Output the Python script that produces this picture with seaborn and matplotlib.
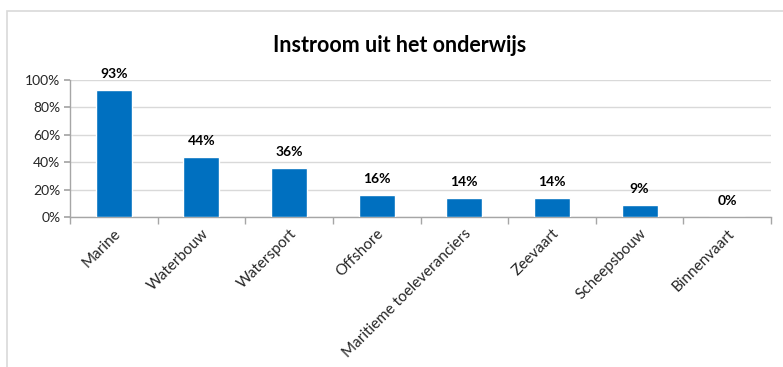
import matplotlib
matplotlib.use("Agg")
import matplotlib.pyplot as plt
import matplotlib.patches as mpatches
from matplotlib.ticker import FixedLocator, PercentFormatter
import seaborn as sns
import pandas as pd

categories = ["Marine", "Waterbouw", "Watersport", "Offshore",
              "Maritieme toeleveranciers", "Zeevaart", "Scheepsbouw", "Binnenvaart"]
values = [93, 44, 36, 16, 14, 14, 9, 0]
yticks = [0, 20, 40, 60, 80, 100]

sns.set_theme(style="white")
plt.rcParams["font.family"] = ["Lato", "DejaVu Sans"]

df = pd.DataFrame({"sector": categories, "pct": values})

fig = plt.figure(figsize=(7.83, 3.67), dpi=100)
ax = fig.add_axes([70 / 783, 1 - 217 / 367, (771 - 70) / 783, (217 - 80) / 367])

sns.barplot(data=df, x="sector", y="pct", color="#0070c0", width=0.41,
            saturation=1, ax=ax, zorder=3)

ax.set_xlim(-0.5, len(categories) - 0.5)
ax.set_ylim(0, 100)
ax.set_yticks(yticks)
ax.yaxis.set_major_formatter(PercentFormatter(decimals=0))
ax.grid(axis="y", color="#d9d9d9", linewidth=1, zorder=0)
ax.set_xlabel("")
ax.set_ylabel("")

for s in ["top", "right"]:
    ax.spines[s].set_visible(False)
for s in ["left", "bottom"]:
    ax.spines[s].set_color("#a6a6a6")
    ax.spines[s].set_linewidth(1)

ax.tick_params(axis="y", which="major", length=4, color="#a6a6a6",
               labelsize=10, labelcolor="#262626", pad=3, left=True)
ax.tick_params(axis="x", which="major", length=0, labelsize=11,
               labelcolor="#262626", pad=7)
ax.xaxis.set_minor_locator(FixedLocator([i - 0.5 for i in range(len(categories) + 1)]))
ax.tick_params(axis="x", which="minor", length=5, color="#a6a6a6", bottom=True)

for lbl in ax.get_xticklabels():
    lbl.set_rotation(45)
    lbl.set_ha("right")
    lbl.set_rotation_mode("anchor")

for i, v in enumerate(values):
    ax.annotate(f"{v}%", (i, v), xytext=(0, 7), textcoords="offset points",
                ha="center", va="bottom", fontsize=10, fontweight="bold",
                color="#000000", annotation_clip=False)

fig.text(400 / 783, 1 - 45 / 367, "Instroom uit het onderwijs", ha="center",
         va="center", fontsize=15.5, fontweight="bold", color="#000000")

frame = mpatches.Rectangle((6.5 / 783, -0.1), 1.2, 1 - 11 / 367 + 0.1,
                           transform=fig.transFigure, fill=False,
                           edgecolor="#d9d9d9", linewidth=1.2, clip_on=False)
fig.patches.append(frame)

fig.savefig("out.png", dpi=100)
